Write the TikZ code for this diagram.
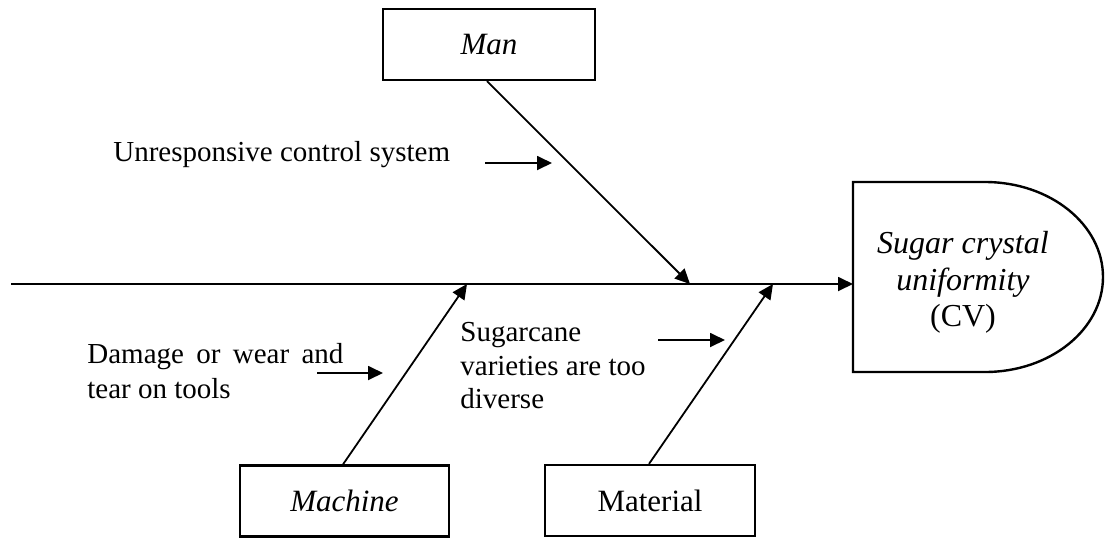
\documentclass[tikz,border=0pt]{standalone}
\usepackage{fontspec}
\setmainfont{Liberation Serif}
\usetikzlibrary{arrows.meta}

\begin{document}
\begin{tikzpicture}[x=0.5pt,y=-0.5pt,
  line/.style={line width=0.9pt},
  arr/.style={line, -{Triangle[length=7.5pt,width=7pt]}},
  catbox/.style={draw, line width=1.1pt, minimum width=#1, minimum height=35.5pt,
                 inner sep=0pt, font=\fontsize{15.5}{18}\selectfont},
  cause/.style={inner sep=0pt, font=\fontsize{14.5}{17}\selectfont}
]
\useasboundingbox (0,0) rectangle (1105,537);

% category boxes
\node[catbox=106pt] (man) at (489,44.5) {\itshape Man};
\node[catbox=104.5pt] (machine) at (344.5,501) {\itshape Machine};
\node[catbox=105pt] (material) at (650,500.5) {Material};

% effect head: flat left side, rounded right side
\draw[line width=1.2pt] (853,182) -- (985,182)
  arc[start angle=90, end angle=-90, x radius=59pt, y radius=47.5pt]
  -- (853,372) -- cycle;
\node[inner sep=0pt, anchor=north, align=center,
      font=\fontsize{16}{18.3}\selectfont] (effect) at (963,231)
  {\itshape Sugar crystal\\ \itshape uniformity\\ (CV)};

% spine
\coordinate (tail) at (11,284);
\coordinate (headin) at (853,284);
\draw[arr] (tail) -- (headin);

% bones
\coordinate (manend) at (690,284);
\coordinate (machend) at (467,284);
\coordinate (matend) at (773,284);
\draw[arr] (man.south -| 487,0) -- (manend);
\draw[arr] (machine.north -| 343,0) -- (machend);
\draw[arr] (material.north -| 649,0) -- (matend);

% causes
\node[cause, anchor=base west] (c1) at (113,161) {Unresponsive control system};
\coordinate (c1a) at (485,163);
\coordinate (c1b) at (552,163);
\draw[arr] (c1a) -- (c1b);

\node[cause, anchor=north west, text width=128pt, align=justify,
      font=\fontsize{14.5}{17.5}\selectfont] (c2) at (87,343)
  {Damage or wear and tear on tools};
\coordinate (c2a) at (317,373);
\coordinate (c2b) at (383,373);
\draw[arr] (c2a) -- (c2b);

\node[cause, anchor=north west, align=left,
      font=\fontsize{14.5}{16.75}\selectfont] (c3) at (460,322)
  {Sugarcane\\ varieties are too\\ diverse};
\coordinate (c3a) at (658,340);
\coordinate (c3b) at (725,340);
\draw[arr] (c3a) -- (c3b);
\end{tikzpicture}
\end{document}
